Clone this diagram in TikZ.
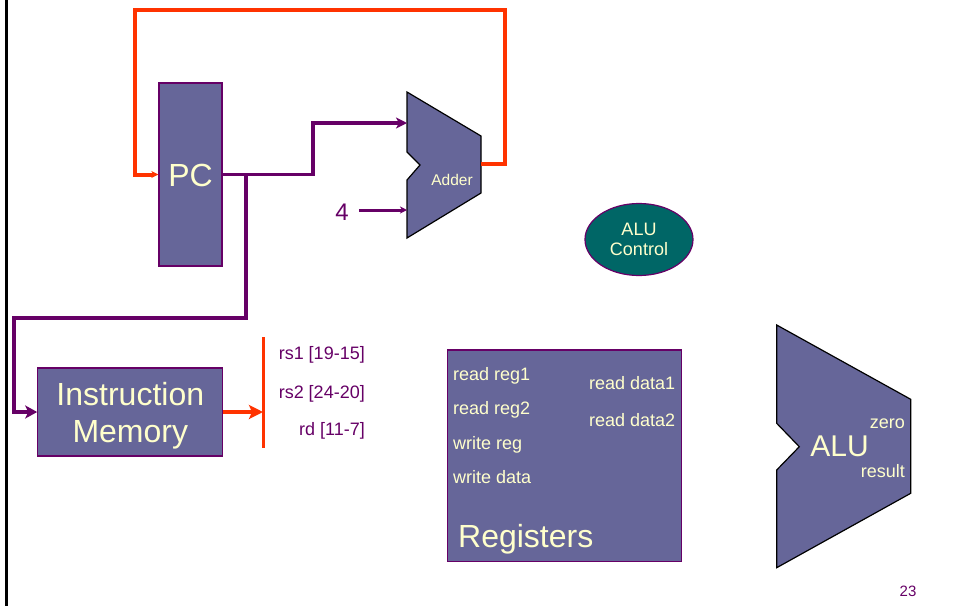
\documentclass[tikz,border=0pt]{standalone}
\usepackage{fontspec}
\setmainfont{Liberation Sans}
\usetikzlibrary{arrows.meta,shapes.geometric}
\definecolor{boxfill}{HTML}{666699}
\definecolor{cream}{HTML}{FFFFCC}
\definecolor{teal2}{HTML}{006666}
\definecolor{purp}{HTML}{660066}
\definecolor{redw}{HTML}{FF3300}
\begin{document}
\begin{tikzpicture}[x=1pt,y=-1pt,
  block/.style={draw=purp,line width=1.2pt,fill=boxfill,inner sep=0pt},
  unit/.style={draw=black,line width=1.2pt,fill=boxfill,line join=miter},
  wt/.style={text=cream,inner sep=0pt},
  pt/.style={text=purp,inner sep=0pt},
  pwire/.style={draw=purp,line width=3.6pt},
  rwire/.style={draw=redw,line width=4pt},
  fs/.style={font=\fontsize{#1}{#1}\selectfont}
]
\useasboundingbox (0,0) rectangle (954,606);
\draw[line width=3pt] (6,0) -- (6,606);

% PC
\node[block,minimum width=63,minimum height=183] (pc) at (190.5,174.5) {};
\node[wt,fs=32,anchor=base] (pctext) at (190.5,186.5) {PC};

% Adder
\draw[unit] (407,92) -- (481,136) -- (481,193) -- (407,238) -- (407,180) -- (420,165) -- (407,152) -- cycle;
\node[wt,fs=15.5,anchor=base] (adder) at (452,185) {Adder};
\coordinate (addA) at (407,123);
\coordinate (addB) at (407,210);
\coordinate (addout) at (481,164);

% 4
\node[pt,fs=24,anchor=base] (four) at (342,220) {4};

% ALU control
\node[ellipse,draw=purp,line width=1.2pt,fill=teal2,minimum width=108,minimum height=72,
      text=cream,inner sep=0pt,align=center,font=\fontsize{18}{20}\selectfont] (aluctl) at (639,239.5) {ALU\\Control};

% Instruction memory
\node[block,minimum width=185,minimum height=88] (im) at (130.3,412) {};
\node[wt,align=center,font=\fontsize{32}{37}\selectfont] (imtext) at (130.3,415.5) {Instruction\\Memory};

% bar
\coordinate (bartop) at (263,337);
\coordinate (barbot) at (263,448);
\coordinate (barmid) at (263,412);
\draw[draw=redw,line width=3pt] (bartop) -- (barbot);

\node[pt,fs=18,anchor=base east] (rs1) at (365,359) {rs1 [19-15]};
\node[pt,fs=18,anchor=base east] (rs2) at (365,398) {rs2 [24-20]};
\node[pt,fs=18,anchor=base east] (rd) at (365,435) {rd [11-7]};

% Registers
\node[block,minimum width=234.4,minimum height=211.7] (regs) at (564.5,455.8) {};
\node[wt,fs=18,anchor=base west] (rr1) at (453,380) {read reg1};
\node[wt,fs=18,anchor=base west] (rr2) at (453,414) {read reg2};
\node[wt,fs=18,anchor=base west] (wr) at (453,449) {write reg};
\node[wt,fs=18,anchor=base west] (wd) at (453,483) {write data};
\node[wt,fs=18,anchor=base west] (rd1) at (589,389) {read data1};
\node[wt,fs=18,anchor=base west] (rd2) at (589,426) {read data2};
\node[wt,fs=32,anchor=base west] (regname) at (458,547) {Registers};

% ALU
\draw[unit] (776.7,325) -- (910.7,399.3) -- (910.7,493.3) -- (776.7,567.7) -- (776.7,470) -- (799.3,446.7) -- (776.7,423.3) -- cycle;
\node[wt,fs=30,anchor=base] (alu) at (839.5,456.7) {ALU};
\node[wt,fs=18,anchor=base east] (zero) at (905,428) {zero};
\node[wt,fs=18,anchor=base east] (result) at (905,477) {result};

% page number
\node[pt,fs=15,anchor=base] (page) at (908,596) {23};

% wires
\draw[rwire,-{Stealth[length=7pt,width=7pt,inset=2pt]}] (addout) -| (505,10) -| (135,174.5) -- (pc.west);
\draw[pwire,-{Stealth[length=11pt,width=11pt,inset=3pt]}] (pc.east) -- (313,174.5) |- (addA);
\coordinate (br) at (245.7,174.5);
\draw[pwire,-{Stealth[length=12pt,width=13pt,inset=3pt]}] (br) -- (245.7,318) -| (14,412) -- (im.west);
\draw[draw=redw,line width=3.5pt,-{Stealth[length=14pt,width=14pt,inset=3pt]}] (im.east) -- (barmid);
\draw[draw=purp,line width=3pt,shorten <=10pt,-{Stealth[length=7pt,width=7pt,inset=2pt]}] (four.east |- addB) -- (addB);
\end{tikzpicture}
\end{document}
